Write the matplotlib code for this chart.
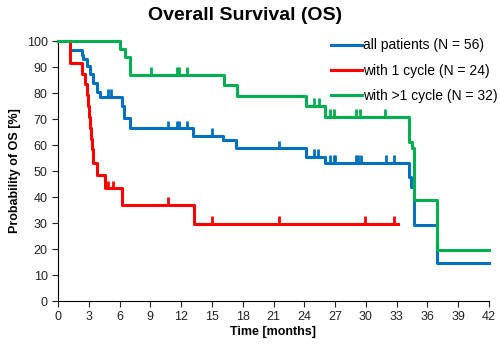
import matplotlib.pyplot as plt

plt.rcParams['font.family'] = ['Liberation Sans', 'DejaVu Sans']

# Kaplan-Meier step data (time in months, OS in %)
all_t = [0, 1.2, 2.3, 2.47, 2.8, 3.12, 3.45, 3.77, 4.1, 6.2, 6.4, 7.0, 13.2, 16.1, 17.3, 24.2, 26.0, 34.2, 34.4, 34.7, 36.9, 42]
all_s = [100, 96.4, 94.6, 92.9, 90.2, 87.5, 83.9, 80.4, 78.6, 75.0, 70.5, 66.4, 63.5, 61.9, 58.7, 55.5, 53.0, 47.8, 44.0, 29.2, 14.6, 14.6]
all_ct = [4.9, 5.2, 10.7, 11.6, 11.8, 12.6, 15.0, 21.5, 24.9, 25.3, 26.5, 26.9, 27.0, 29.0, 29.2, 29.5, 32.0, 32.7]
all_cs = [78.6, 78.6, 66.4, 66.4, 66.4, 66.4, 63.5, 58.7, 55.5, 55.5, 53.0, 53.0, 53.0, 53.0, 53.0, 53.0, 53.0, 53.0]

one_t = [0, 1.2, 2.3, 2.6, 2.8, 2.9, 3.0, 3.1, 3.2, 3.3, 3.45, 3.77, 4.6, 6.2, 13.3, 33.1]
one_s = [100, 91.7, 87.5, 83.3, 79.2, 75.0, 70.8, 66.7, 62.5, 58.3, 53.0, 48.5, 43.3, 36.9, 29.6, 29.6]
one_ct = [4.9, 5.4, 10.7, 15.0, 21.5, 29.9, 32.7]
one_cs = [43.3, 43.3, 36.9, 29.6, 29.6, 29.6, 29.6]

multi_t = [0, 6.05, 6.5, 7.0, 16.2, 17.4, 24.2, 26.0, 34.2, 34.5, 34.7, 36.9, 42]
multi_s = [100, 96.9, 93.8, 86.9, 83.0, 79.0, 75.0, 70.8, 61.0, 59.0, 39.0, 19.6, 19.6]
multi_ct = [9.1, 11.6, 11.8, 12.6, 24.9, 25.4, 26.5, 26.9, 29.0, 29.4, 31.9]
multi_cs = [86.9, 86.9, 86.9, 86.9, 75.0, 75.0, 70.8, 70.8, 70.8, 70.8, 70.8]

series = [
    ("all patients (N = 56)", all_t, all_s, all_ct, all_cs, "#0070C0"),
    ("with 1 cycle (N = 24)", one_t, one_s, one_ct, one_cs, "#FF0000"),
    ("with >1 cycle (N = 32)", multi_t, multi_s, multi_ct, multi_cs, "#00B050"),
]

fig = plt.figure(figsize=(5.0, 3.49), dpi=100)
ax = fig.add_axes([0.116, 0.1375, 0.862, 0.745])

# blue first, green last (green lies on top along 100 %)
for label, t, s, ct, cs, col in series:
    ax.step(t, s, where='post', color=col, lw=2.2, label=label, clip_on=False, zorder=3)
    ax.vlines(ct, cs, [c + 3 for c in cs], color=col, lw=2.0, zorder=3)

ax.legend(loc='upper left', bbox_to_anchor=(0.634, 1.01), frameon=False,
          fontsize=10, handlelength=2.2, handletextpad=0.1,
          labelspacing=0.8, borderpad=0, borderaxespad=0)

ax.set_xlim(0, 42)
ax.set_ylim(0, 100)
ax.set_xticks(range(0, 43, 3))
ax.set_yticks(range(0, 101, 10))
ax.spines['top'].set_visible(False)
ax.spines['right'].set_visible(False)
ax.tick_params(direction='out', length=4, labelsize=9, colors='#222222')
ax.set_xlabel("Time [months]", fontsize=9, fontweight='bold', labelpad=2)
ax.set_ylabel("Probability of OS [%]", fontsize=9, fontweight='bold', labelpad=4)
fig.text(0.49, 0.957, "Overall Survival (OS)", fontsize=14, fontweight='bold',
         ha='center', va='center')

fig.savefig("out.png", dpi=100)
